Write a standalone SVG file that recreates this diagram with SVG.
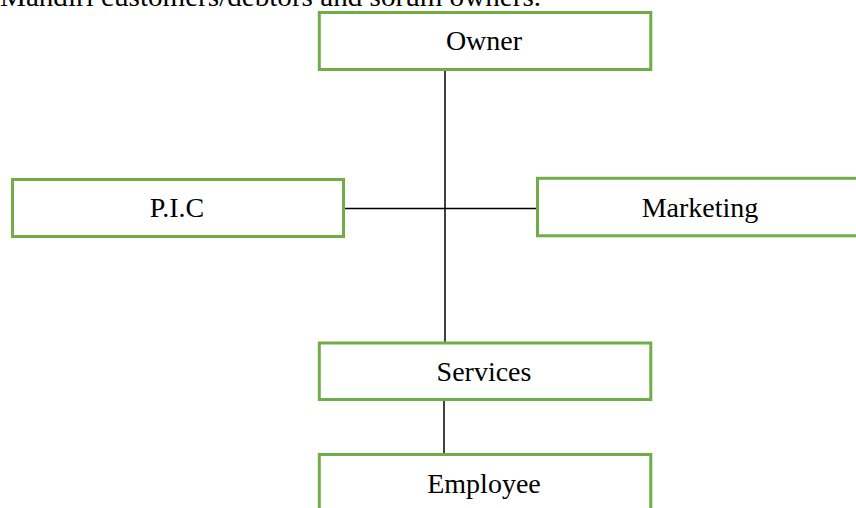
<svg xmlns="http://www.w3.org/2000/svg" width="856" height="508" viewBox="0 0 856 508">
<style>
.box{fill:#fff;stroke:#70AD47;stroke-width:3}
.lbl{font-family:"Liberation Serif","Times New Roman",serif;font-size:28px;fill:#000;text-anchor:middle}
.ln{stroke:#000;stroke-width:1.5;fill:none}
</style>
<rect width="856" height="508" fill="#fff"/>
<text x="0" y="6" font-family="Liberation Serif, Times New Roman, serif" font-size="28" fill="#000" textLength="541" lengthAdjust="spacingAndGlyphs">Mandiri customers/debtors and sorum owners.</text>
<g id="connectors">
<line class="ln" x1="445" y1="71" x2="445" y2="342"/>
<line class="ln" x1="344" y1="208.5" x2="536" y2="208.5"/>
<line x1="444" y1="400" x2="444" y2="453" stroke="#404040" stroke-width="2"/>
</g>
<g id="owner">
<rect class="box" x="319.3" y="12.5" width="331.5" height="57"/>
<text class="lbl" x="484" y="49.5">Owner</text>
</g>
<g id="pic">
<rect class="box" x="12.5" y="179.5" width="331" height="57"/>
<text class="lbl" x="177" y="217">P.I.C</text>
</g>
<g id="marketing">
<rect class="box" x="537.5" y="178.3" width="330" height="57.5"/>
<text class="lbl" x="700" y="217">Marketing</text>
</g>
<g id="services">
<rect class="box" x="319.3" y="343" width="331.5" height="56.5"/>
<text class="lbl" x="484" y="380.5">Services</text>
</g>
<g id="employee">
<rect class="box" x="319.3" y="454.5" width="331.5" height="60"/>
<text class="lbl" x="484" y="492.5">Employee</text>
</g>
</svg>
